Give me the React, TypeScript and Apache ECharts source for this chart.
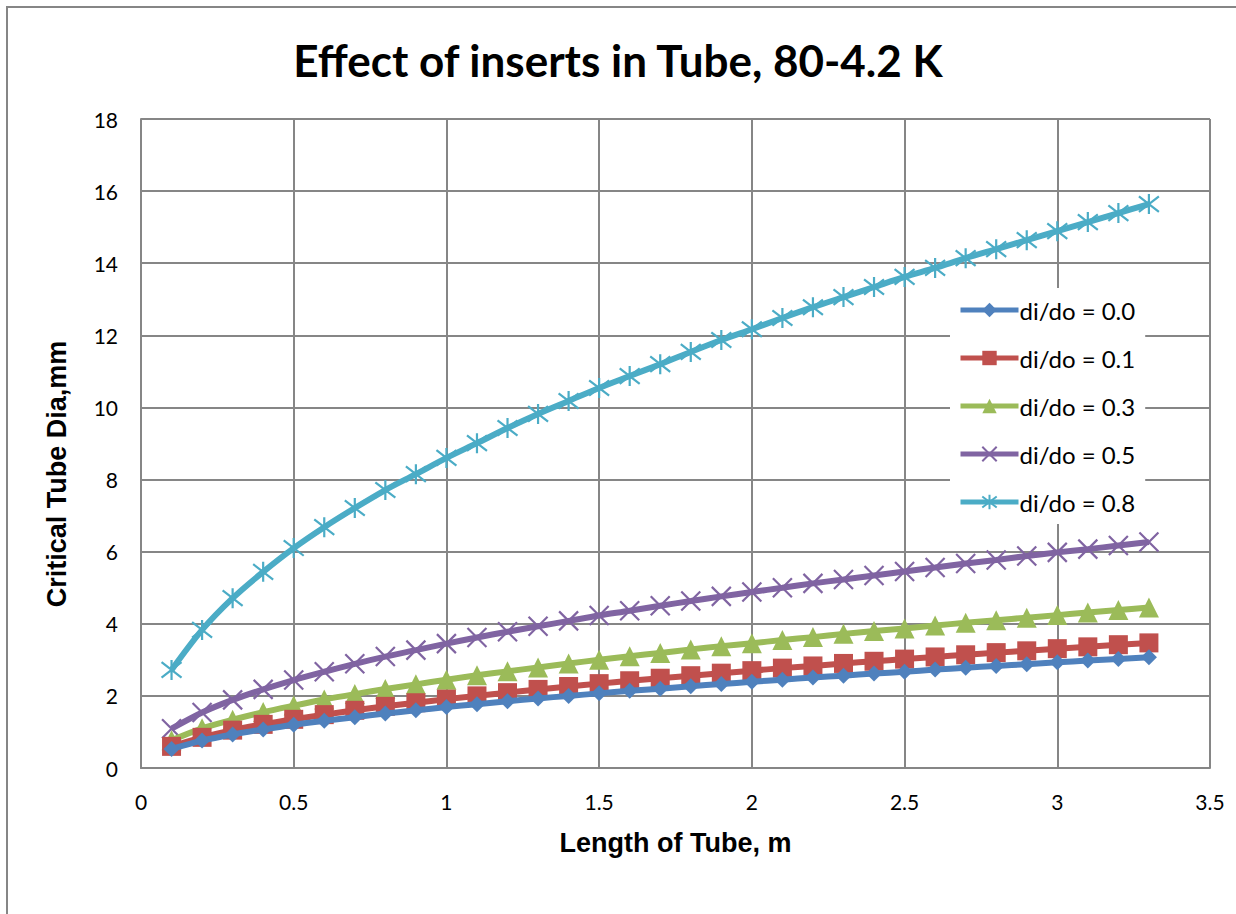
import React, { useEffect, useRef } from "react";
import * as echarts from "echarts";

const lengths = [0.1,0.2,0.3,0.4,0.5,0.6,0.7,0.8,0.9,1.0,1.1,1.2,1.3,1.4,1.5,1.6,1.7,1.8,1.9,2.0,2.1,2.2,2.3,2.4,2.5,2.6,2.7,2.8,2.9,3.0,3.1,3.2,3.3];

const ratio00 = [0.53,0.76,0.93,1.07,1.20,1.31,1.41,1.51,1.60,1.69,1.77,1.85,1.93,2.00,2.07,2.14,2.20,2.27,2.33,2.39,2.45,2.51,2.56,2.62,2.67,2.73,2.78,2.83,2.88,2.93,2.98,3.02,3.07];
const ratio01 = [0.60,0.85,1.05,1.21,1.35,1.48,1.60,1.71,1.81,1.91,2.00,2.09,2.18,2.26,2.34,2.42,2.49,2.56,2.63,2.70,2.77,2.83,2.90,2.96,3.02,3.08,3.14,3.20,3.25,3.31,3.36,3.42,3.47];
const ratio03 = [0.77,1.10,1.34,1.55,1.73,1.90,2.05,2.19,2.32,2.45,2.57,2.68,2.79,2.90,3.00,3.10,3.19,3.29,3.38,3.46,3.55,3.63,3.72,3.80,3.87,3.95,4.03,4.10,4.17,4.24,4.31,4.38,4.45];
const ratio05 = [1.09,1.54,1.89,2.18,2.44,2.67,2.89,3.09,3.27,3.45,3.62,3.78,3.93,4.08,4.23,4.36,4.50,4.63,4.76,4.88,5.00,5.12,5.23,5.34,5.45,5.56,5.67,5.77,5.88,5.98,6.07,6.17,6.27];
const ratio08 = [2.72,3.83,4.71,5.44,6.10,6.68,7.21,7.71,8.15,8.60,9.01,9.43,9.82,10.18,10.54,10.87,11.20,11.54,11.87,12.17,12.48,12.78,13.06,13.34,13.62,13.87,14.14,14.39,14.64,14.89,15.14,15.39,15.64];

const seriesNames = ["di/do = 0.0", "di/do = 0.1", "di/do = 0.3", "di/do = 0.5", "di/do = 0.8"];
const seriesValues = [ratio00, ratio01, ratio03, ratio05, ratio08];
const colors = ["#4F81BD", "#C0504D", "#9BBB59", "#8064A2", "#4BACC6"];
const symbols = [
  "diamond",
  "rect",
  "triangle",
  "path://M0,0L10,10M10,0L0,10",
  "path://M0,0L10,10M10,0L0,10M5,-1.5L5,11.5",
];
const symbolSizes = [16, 19, 20, 19, 20];

export default function App() {
  const ref = useRef<HTMLDivElement>(null);
  useEffect(() => {
    if (!ref.current) return;
    const chart = echarts.init(ref.current, undefined, { renderer: "svg" });
    const gridColor = "#868686";
    chart.setOption({
      animation: false,
      backgroundColor: "#ffffff",
      title: {
        text: "Effect of inserts in Tube, 80-4.2 K",
        left: "center",
        top: 33,
        textStyle: { fontFamily: "Lato", fontWeight: "bold", fontSize: 44, color: "#000" },
      },
      graphic: [
        {
          type: "rect",
          shape: { x: 7, y: 7, width: 1300, height: 1000 },
          style: { fill: "none", stroke: gridColor, lineWidth: 2 },
          z: -10,
        },
        {
          type: "text",
          x: 57,
          y: 474,
          rotation: Math.PI / 2,
          style: {
            text: "Critical Tube Dia,mm",
            fontFamily: "Liberation Sans",
            fontWeight: "bold",
            fontSize: 27,
            fill: "#000",
            align: "center",
            verticalAlign: "middle",
          },
        },
      ],
      grid: { left: 141, right: 26, top: 119, bottom: 146, show: false },
      legend: {
        orient: "vertical",
        left: 950,
        top: 288,
        backgroundColor: "#ffffff",
        padding: [10, 10, 10, 8],
        itemWidth: 58,
        itemHeight: 18,
        itemGap: 24,
        data: seriesNames,
        lineStyle: { width: 5 },
        textStyle: { fontFamily: "Lato", fontSize: 24, color: "#000", padding: [0, 0, 0, -4] },
      },
      xAxis: {
        type: "value",
        min: 0,
        max: 3.5,
        interval: 0.5,
        name: "Length of Tube, m",
        nameLocation: "middle",
        nameGap: 61,
        nameTextStyle: { fontFamily: "Liberation Sans", fontWeight: "bold", fontSize: 27, color: "#000" },
        axisLine: { show: true, onZero: false, lineStyle: { color: gridColor, width: 2 } },
        axisTick: { show: false },
        axisLabel: { fontFamily: "Lato", fontSize: 21, color: "#000", margin: 23 },
        splitLine: { show: true, lineStyle: { color: gridColor, width: 2 } },
      },
      yAxis: {
        type: "value",
        min: 0,
        max: 18,
        interval: 2,
        axisLine: { show: true, lineStyle: { color: gridColor, width: 2 } },
        axisTick: { show: false },
        axisLabel: { fontFamily: "Lato", fontSize: 21, color: "#000", margin: 23 },
        splitLine: { show: true, lineStyle: { color: gridColor, width: 2 } },
      },
      series: seriesNames.map((name, i) => ({
        name,
        type: "line",
        smooth: 0.3,
        data: lengths.map((x, j) => [x, seriesValues[i][j]]),
        symbol: symbols[i],
        symbolSize: symbolSizes[i],
        showAllSymbol: true,
        lineStyle: { color: colors[i], width: 6 },
        itemStyle: {
          color: colors[i],
          borderColor: colors[i],
          borderWidth: i >= 3 ? 2.2 : 0,
        },
        z: 2 + (4 - i),
      })),
    });
    return () => chart.dispose();
  }, []);
  return (
    <div
      ref={ref}
      style={{ position: "absolute", left: 0, top: 0, width: 1236, height: 914 }}
    />
  );
}
